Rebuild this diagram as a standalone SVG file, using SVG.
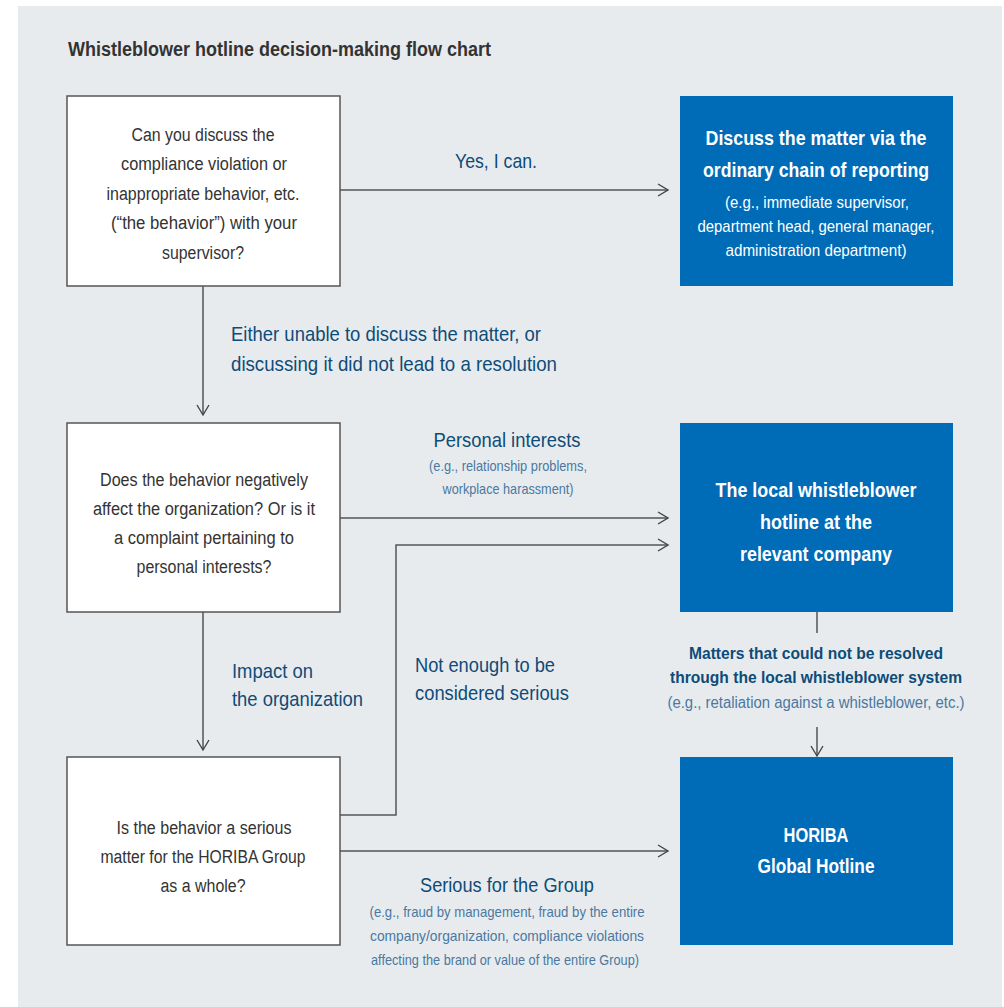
<svg xmlns="http://www.w3.org/2000/svg" width="1004" height="1007" viewBox="0 0 1004 1007">
<defs>
<marker id="ah" markerWidth="14" markerHeight="14" refX="11" refY="7" orient="auto" markerUnits="userSpaceOnUse">
<path d="M1,1 L11,7 L1,13" fill="none" stroke="#444" stroke-width="1.4"/>
</marker>
<style>
text{font-family:"Liberation Sans",Arial,sans-serif}
.q{fill:#333;font-size:18px;text-anchor:middle}
.box{fill:#fff;stroke:#555;stroke-width:1.5}
.blue{fill:#006bb6}
.bt{fill:#fff;font-size:21px;font-weight:bold;text-anchor:middle}
.bs{fill:#fff;font-size:17px;text-anchor:middle}
.lab{fill:#0e4c78;font-size:21px}
.mid{text-anchor:middle}
.sub{fill:#4a78a0;font-size:15px;text-anchor:middle}
.mb{fill:#0e4c78;font-size:17px;font-weight:bold;text-anchor:middle}
.ms{fill:#4a78a0;font-size:16px;text-anchor:middle}
.con{fill:none;stroke:#555;stroke-width:1.5}
</style>
</defs>
<rect x="18" y="6" width="984" height="1001" fill="#e8ebee"/>
<text x="68" y="56" textLength="423" lengthAdjust="spacingAndGlyphs" style="fill:#333;font-size:20px;font-weight:bold">Whistleblower hotline decision-making flow chart</text>

<g id="connectors">
<path class="con" d="M340,190 H668" marker-end="url(#ah)"/>
<path class="con" d="M203,286 V415" marker-end="url(#ah)"/>
<path class="con" d="M340,518 H668" marker-end="url(#ah)"/>
<path class="con" d="M340,815 H396 V545 H668" marker-end="url(#ah)"/>
<path class="con" d="M203,612 V750" marker-end="url(#ah)"/>
<path class="con" d="M340,851 H668" marker-end="url(#ah)"/>
<path class="con" d="M817,612 V633"/>
<path class="con" d="M817,727 V756" marker-end="url(#ah)"/>
<text class="lab mid" x="496" y="168" textLength="82" lengthAdjust="spacingAndGlyphs">Yes, I can.</text>
<text class="lab" x="231" y="341" textLength="310" lengthAdjust="spacingAndGlyphs">Either unable to discuss the matter, or</text>
<text class="lab" x="231" y="371" textLength="326" lengthAdjust="spacingAndGlyphs">discussing it did not lead to a resolution</text>
<text class="lab mid" x="507" y="447" textLength="147" lengthAdjust="spacingAndGlyphs">Personal interests</text>
<text class="sub" x="508" y="471" textLength="158" lengthAdjust="spacingAndGlyphs">(e.g., relationship problems,</text>
<text class="sub" x="508" y="494" textLength="131" lengthAdjust="spacingAndGlyphs">workplace harassment)</text>
<text class="lab" x="232" y="678" textLength="81" lengthAdjust="spacingAndGlyphs">Impact on</text>
<text class="lab" x="232" y="706" textLength="131" lengthAdjust="spacingAndGlyphs">the organization</text>
<text class="lab" x="415" y="672" textLength="140" lengthAdjust="spacingAndGlyphs">Not enough to be</text>
<text class="lab" x="415" y="700" textLength="154" lengthAdjust="spacingAndGlyphs">considered serious</text>
<text class="mb" x="816" y="659" textLength="254" lengthAdjust="spacingAndGlyphs">Matters that could not be resolved</text>
<text class="mb" x="816" y="683" textLength="292" lengthAdjust="spacingAndGlyphs">through the local whistleblower system</text>
<text class="ms" x="816" y="708" textLength="297" lengthAdjust="spacingAndGlyphs">(e.g., retaliation against a whistleblower, etc.)</text>
<text class="lab mid" x="507" y="892" textLength="174" lengthAdjust="spacingAndGlyphs">Serious for the Group</text>
<text class="sub" x="507" y="917" textLength="275" lengthAdjust="spacingAndGlyphs">(e.g., fraud by management, fraud by the entire</text>
<text class="sub" x="507" y="941" textLength="274" lengthAdjust="spacingAndGlyphs">company/organization, compliance violations</text>
<text class="sub" x="505" y="965" textLength="268" lengthAdjust="spacingAndGlyphs">affecting the brand or value of the entire Group)</text>
</g>

<g id="q1">
<rect class="box" x="67" y="96" width="273" height="190"/>
<text class="q" x="203" y="141" textLength="143" lengthAdjust="spacingAndGlyphs">Can you discuss the</text>
<text class="q" x="204" y="170" textLength="166" lengthAdjust="spacingAndGlyphs">compliance violation or</text>
<text class="q" x="203" y="200" textLength="193" lengthAdjust="spacingAndGlyphs">inappropriate behavior, etc.</text>
<text class="q" x="204" y="229" textLength="186" lengthAdjust="spacingAndGlyphs">(“the behavior”) with your</text>
<text class="q" x="203" y="259" textLength="82" lengthAdjust="spacingAndGlyphs">supervisor?</text>
</g>
<g id="r1">
<rect class="blue" x="680" y="96" width="273" height="190"/>
<text class="bt" x="816" y="145" textLength="221" lengthAdjust="spacingAndGlyphs">Discuss the matter via the</text>
<text class="bt" x="816" y="177" textLength="226" lengthAdjust="spacingAndGlyphs">ordinary chain of reporting</text>
<text class="bs" x="817" y="208" textLength="184" lengthAdjust="spacingAndGlyphs">(e.g., immediate supervisor,</text>
<text class="bs" x="816" y="232" textLength="237" lengthAdjust="spacingAndGlyphs">department head, general manager,</text>
<text class="bs" x="816" y="256" textLength="181" lengthAdjust="spacingAndGlyphs">administration department)</text>
</g>
<g id="q2">
<rect class="box" x="67" y="423" width="273" height="189"/>
<text class="q" x="204" y="486" textLength="208" lengthAdjust="spacingAndGlyphs">Does the behavior negatively</text>
<text class="q" x="204" y="515" textLength="222" lengthAdjust="spacingAndGlyphs">affect the organization? Or is it</text>
<text class="q" x="204" y="544" textLength="180" lengthAdjust="spacingAndGlyphs">a complaint pertaining to</text>
<text class="q" x="204" y="573" textLength="135" lengthAdjust="spacingAndGlyphs">personal interests?</text>
</g>
<g id="r2">
<rect class="blue" x="680" y="423" width="273" height="189"/>
<text class="bt" x="816" y="497" textLength="201" lengthAdjust="spacingAndGlyphs">The local whistleblower</text>
<text class="bt" x="816" y="529" textLength="112" lengthAdjust="spacingAndGlyphs">hotline at the</text>
<text class="bt" x="816" y="561" textLength="152" lengthAdjust="spacingAndGlyphs">relevant company</text>
</g>
<g id="q3">
<rect class="box" x="67" y="757" width="273" height="188"/>
<text class="q" x="204" y="834" textLength="175" lengthAdjust="spacingAndGlyphs">Is the behavior a serious</text>
<text class="q" x="203" y="863" textLength="205" lengthAdjust="spacingAndGlyphs">matter for the HORIBA Group</text>
<text class="q" x="203" y="892" textLength="85" lengthAdjust="spacingAndGlyphs">as a whole?</text>
</g>
<g id="r3">
<rect class="blue" x="680" y="757" width="273" height="188"/>
<text class="bt" x="816" y="842" textLength="65" lengthAdjust="spacingAndGlyphs">HORIBA</text>
<text class="bt" x="816" y="873" textLength="117" lengthAdjust="spacingAndGlyphs">Global Hotline</text>
</g>
</svg>
